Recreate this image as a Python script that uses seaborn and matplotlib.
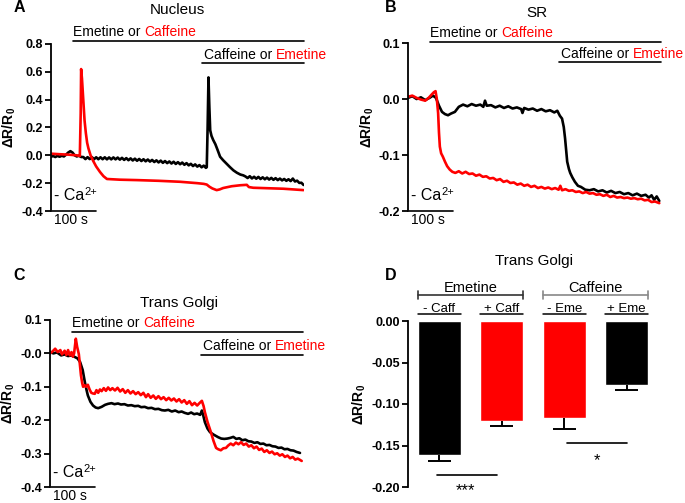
import numpy as np
import pandas as pd
import matplotlib
matplotlib.use("Agg")
import matplotlib.pyplot as plt
import seaborn as sns

# ---- data ----
# panel A, nucleus
a_black_t = [0, 5, 10, 15, 20, 25, 30, 35, 40, 45, 50, 55, 60, 65, 70,
             75, 80, 85, 90, 95, 100, 105, 110, 115, 120, 125, 130, 135, 140, 145,
             150, 155, 160, 165, 170, 175, 180, 185, 190, 195, 200, 205, 210, 215,
             220, 225, 230, 235, 240, 245, 250, 255, 260, 265, 270, 275, 280, 285,
             290, 295, 300, 305, 310, 315, 320, 325, 330, 335, 340, 345, 350, 355,
             360, 362, 364, 366, 368, 370, 373, 377, 382, 387, 393, 400, 408, 416,
             424, 432, 440, 447, 452, 457, 462, 467, 472, 477, 482, 487, 492, 497,
             502, 507, 512, 517, 522, 527, 532, 537, 542, 547, 552, 557, 562, 567,
             572, 577, 582, 587]
a_black_v = [-0.010, -0.005, -0.012, -0.004, -0.010, -0.003, -0.008, 0.005, 0.020, 0.030,
             0.020, 0.000, -0.008, -0.002, -0.012,
             -0.012, -0.027, -0.013, -0.027, -0.013, -0.028, -0.014, -0.028, -0.014, -0.028,
             -0.014, -0.029, -0.015, -0.029, -0.015, -0.029, -0.016, -0.031, -0.018, -0.033,
             -0.020, -0.035, -0.022, -0.037, -0.024, -0.039, -0.026, -0.041, -0.028, -0.043,
             -0.030, -0.045, -0.033, -0.048, -0.036, -0.051, -0.038, -0.054, -0.041, -0.056,
             -0.044, -0.059, -0.046, -0.062, -0.049, -0.064, -0.052, -0.068, -0.056, -0.072,
             -0.061, -0.077, -0.065, -0.081, -0.070, -0.086, -0.074,
             -0.090, -0.085, 0.20, 0.56, 0.35, 0.18, 0.14, 0.11, 0.08, 0.04, -0.01, -0.035,
             -0.06, -0.085, -0.108, -0.125, -0.138, -0.144, -0.152, -0.163, -0.150, -0.166,
             -0.154, -0.168, -0.155, -0.170, -0.158, -0.172, -0.160, -0.174, -0.162, -0.176,
             -0.164, -0.178, -0.167, -0.180, -0.170, -0.183, -0.172, -0.185, -0.167, -0.188,
             -0.182, -0.198, -0.197, -0.213]
a_red_t = [0, 20, 40, 60, 67, 69, 70, 72, 75, 78, 81, 84, 87, 92, 98, 105, 114, 122,
           130, 160, 200, 250, 300, 340, 355, 362, 368, 375, 385, 392, 400, 420, 440,
           455, 460, 470, 500, 540, 587]
a_red_v = [0.012, 0.008, 0.005, 0.000, -0.005, 0.30, 0.62, 0.55, 0.40, 0.25, 0.16, 0.09,
           0.05, 0.00, -0.04, -0.08, -0.12, -0.15, -0.170, -0.175, -0.178, -0.183, -0.190,
           -0.200, -0.205, -0.210, -0.225, -0.238, -0.250, -0.245, -0.235, -0.222, -0.215,
           -0.212, -0.228, -0.233, -0.236, -0.240, -0.250]

# panel B, SR
b_black_t = [0, 10, 20, 30, 40, 50, 58, 65, 72, 79, 86, 93, 100, 109, 118, 128, 138, 148,
             158, 168, 175, 179, 183, 193, 203, 213, 223, 233, 243, 253, 263, 266, 270,
             280, 290, 300, 310, 320, 330, 340, 347, 353, 358, 362, 365, 368, 370, 374,
             377, 382, 388, 395, 402, 412, 422, 432, 442, 452, 462, 472, 482, 492, 502,
             512, 522, 532, 542, 552, 560, 566, 572, 578, 584]
b_black_v = [0.002, 0.005, 0.000, 0.003, -0.002, 0.002, 0.006, 0.002, -0.012, -0.023,
             -0.027, -0.029, -0.026, -0.023, -0.014, -0.010, -0.013, -0.009, -0.012, -0.010,
             -0.014, -0.003, -0.012, -0.011, -0.015, -0.012, -0.016, -0.013, -0.017, -0.015,
             -0.018, -0.025, -0.016, -0.019, -0.017, -0.021, -0.018, -0.022, -0.020, -0.024,
             -0.021, -0.030, -0.035, -0.050, -0.070, -0.095, -0.112, -0.125, -0.132, -0.140,
             -0.148, -0.155, -0.157, -0.162, -0.163, -0.161, -0.165, -0.163, -0.167, -0.164,
             -0.168, -0.166, -0.170, -0.168, -0.172, -0.169, -0.173, -0.171, -0.176, -0.172,
             -0.180, -0.174, -0.182]
b_red_t = [0, 10, 20, 30, 40, 48, 55, 60, 64, 67, 70, 72, 74, 77, 81, 86, 91, 97, 103,
           110, 118, 126, 134, 142, 150, 158, 166, 174, 182, 190, 198, 206, 214, 222, 230,
           238, 246, 254, 262, 270, 278, 286, 294, 302, 310, 318, 326, 334, 342, 350, 354,
           358, 366, 374, 382, 390, 398, 406, 414, 422, 430, 438, 446, 454, 462, 470, 478,
           486, 494, 502, 510, 518, 526, 534, 542, 550, 558, 566, 574, 584]
b_red_v = [0.004, 0.006, 0.002, -0.001, -0.003, 0.002, 0.008, 0.012, 0.014, 0.000, -0.025,
           -0.060, -0.085, -0.097, -0.103, -0.112, -0.120, -0.126, -0.130, -0.132, -0.129,
           -0.133, -0.130, -0.134, -0.133, -0.137, -0.135, -0.139, -0.138, -0.142, -0.141,
           -0.145, -0.143, -0.148, -0.146, -0.150, -0.149, -0.153, -0.151, -0.155, -0.153,
           -0.157, -0.155, -0.159, -0.157, -0.160, -0.158, -0.161, -0.159, -0.162, -0.155,
           -0.163, -0.161, -0.164, -0.163, -0.166, -0.165, -0.168, -0.166, -0.169, -0.168,
           -0.171, -0.170, -0.173, -0.171, -0.175, -0.173, -0.176, -0.175, -0.177, -0.176,
           -0.178, -0.177, -0.179, -0.178, -0.181, -0.180, -0.184, -0.183, -0.186]

# panel C, trans Golgi
c_black_t = [0, 8, 16, 26, 34, 42, 50, 58, 64, 70, 76, 81, 85, 88, 94, 100, 106, 112, 120,
             128, 135, 143, 150, 158, 165, 173, 181, 189, 197, 205, 212, 220, 228, 236, 244,
             252, 260, 267, 275, 283, 291, 299, 306, 313, 321, 328, 335, 342, 349, 353, 356,
             360, 366, 372, 380, 391, 398, 405, 412, 419, 426, 433, 440, 447, 454, 461, 468,
             475, 482, 489, 496, 503, 510, 517, 524, 531, 538, 545, 552, 559, 566, 573, 581]
c_black_v = [0.004, 0.000, 0.003, -0.006, -0.003, -0.008, -0.006, -0.011, -0.015, -0.026,
             -0.050, -0.086, -0.110, -0.126, -0.145, -0.156, -0.162, -0.164, -0.160, -0.154,
             -0.151, -0.149, -0.152, -0.150, -0.153, -0.152, -0.156, -0.155, -0.158, -0.157,
             -0.161, -0.160, -0.164, -0.163, -0.167, -0.166, -0.170, -0.171, -0.169, -0.174,
             -0.171, -0.176, -0.174, -0.178, -0.181, -0.177, -0.182, -0.180, -0.184, -0.171,
             -0.185, -0.206, -0.225, -0.236, -0.243, -0.251, -0.255, -0.256, -0.255, -0.253,
             -0.250, -0.256, -0.254, -0.260, -0.258, -0.263, -0.264, -0.268, -0.266, -0.271,
             -0.270, -0.275, -0.274, -0.278, -0.279, -0.283, -0.282, -0.287, -0.286, -0.290,
             -0.291, -0.295, -0.298]
c_red_t = [0, 6, 12, 18, 24, 28, 34, 38, 42, 46, 50, 53, 56, 60, 63, 67, 70, 72, 75, 77,
           80, 84, 88, 92, 96, 100, 104, 108, 112, 116, 120, 125, 130, 135, 140, 145, 151,
           157, 163, 169, 175, 181, 187, 193, 199, 205, 211, 217, 223, 228, 234, 240, 246,
           252, 258, 264, 270, 276, 282, 288, 294, 300, 306, 312, 318, 324, 330, 336, 342,
           348, 353, 357, 360, 366, 374, 380, 386, 391, 397, 403, 409, 414, 420, 426, 432,
           438, 444, 450, 456, 462, 468, 474, 480, 486, 492, 498, 504, 510, 516, 522, 528,
           534, 540, 546, 552, 558, 564, 570, 576, 585]
c_red_v = [0.000, 0.006, 0.014, 0.004, 0.010, -0.003, 0.008, -0.005, 0.010, -0.006, 0.004,
           -0.010, 0.000, 0.044, 0.020, -0.002, -0.040, -0.066, -0.090, -0.100, -0.095,
           -0.100, -0.094, -0.108, -0.118, -0.120, -0.121, -0.110, -0.118, -0.108, -0.113,
           -0.104, -0.112, -0.102, -0.110, -0.104, -0.111, -0.103, -0.114, -0.107, -0.118,
           -0.110, -0.120, -0.113, -0.122, -0.116, -0.125, -0.118, -0.131, -0.122, -0.133,
           -0.126, -0.136, -0.128, -0.137, -0.131, -0.140, -0.133, -0.141, -0.135, -0.144,
           -0.137, -0.147, -0.140, -0.151, -0.143, -0.155, -0.148, -0.156, -0.148, -0.142,
           -0.158, -0.176, -0.205, -0.236, -0.262, -0.283, -0.287, -0.290, -0.284, -0.283,
           -0.276, -0.270, -0.275, -0.267, -0.272, -0.266, -0.274, -0.270, -0.279, -0.275,
           -0.284, -0.279, -0.289, -0.285, -0.295, -0.290, -0.298, -0.294, -0.302, -0.299,
           -0.306, -0.302, -0.310, -0.306, -0.314, -0.310, -0.318, -0.315, -0.322]

# panel D, bar summary
d_labels = ["- Caff", "+ Caff", "- Eme", "+ Eme"]
d_means = [-0.162, -0.120, -0.117, -0.077]
d_sem = [0.007, 0.007, 0.013, 0.006]
d_colors = ["black", "red", "red", "black"]
d_groups = ["Emetine", "Caffeine"]

drug_times = [50, 352]   # first and second addition (s)
t_end = 588

# ---- style ----
sns.set_style("ticks", {"axes.edgecolor": "black", "ytick.color": "black",
                        "text.color": "black", "axes.labelcolor": "black"})
plt.rcParams["font.family"] = ["Liberation Sans", "DejaVu Sans"]
plt.rcParams["axes.unicode_minus"] = False
plt.rcParams["mathtext.fontset"] = "custom"
plt.rcParams["mathtext.rm"] = "Liberation Sans"
plt.rcParams["mathtext.it"] = "Liberation Sans:italic"
plt.rcParams["mathtext.bf"] = "Liberation Sans:bold"

W, H = 685, 503
fig = plt.figure(figsize=(W / 100, H / 100), dpi=100)


def rect(left, right, top, bottom):
    return [left / W, 1 - bottom / H, (right - left) / W, (bottom - top) / H]


def style_y(ax, ylim, ticks, labels, label_x):
    ax.set_ylim(*ylim)
    ax.set_yticks(ticks)
    ax.set_yticklabels(labels, fontweight="bold", fontsize=9)
    ax.tick_params(axis="y", length=4, width=1.3, pad=1.5)
    ax.tick_params(axis="x", length=0)
    ax.set_xticks([])
    ax.set_xlabel("")
    ax.spines["left"].set_linewidth(1.3)
    sns.despine(ax=ax, bottom=True)
    ax.set_ylabel(r"ΔR/R$_\mathbf{0}$", fontsize=10, fontweight="bold")
    ax.yaxis.set_label_coords(label_x, 0.5)


def drug_label(ax, t0, yfrac, first, second):
    tr = ax.get_xaxis_transform()
    t1 = ax.text(t0, yfrac, first, transform=tr, fontsize=10, va="bottom", ha="left")
    ax.annotate(second, xy=(1, 0), xycoords=t1, fontsize=10, va="bottom",
                ha="left", color="red")


def trace_panel(r, bt, bv, rt, rv, ylim, ticks, labels, ylab_x, y_lines, y_texts, y_ca):
    ax = fig.add_axes(r)
    sns.lineplot(x=bt, y=bv, color="black", lw=1.9, estimator=None, ax=ax)
    sns.lineplot(x=rt, y=rv, color="red", lw=1.9, estimator=None, ax=ax)
    ax.set_xlim(0, t_end)
    style_y(ax, ylim, ticks, labels, ylab_x)
    tr = ax.get_xaxis_transform()
    # drug application bars
    for t0, yl in zip(drug_times, y_lines):
        ax.plot([t0, t_end], [yl, yl], transform=tr, color="black", lw=1.2,
                clip_on=False)
    drug_label(ax, drug_times[0] + 1, y_texts[0], "Emetine or ", "Caffeine")
    drug_label(ax, drug_times[1] + 4, y_texts[1], "Caffeine or ", "Emetine")
    # Ca-free + time scale bar
    ax.plot([3, 104], [0, 0], transform=tr, color="black", lw=1.2, clip_on=False)
    ca = ax.text(7, y_ca, "- Ca", transform=tr, fontsize=11.5, va="bottom")
    ax.annotate("2+", xy=(1, 0.42), xycoords=ca, fontsize=8, va="bottom", ha="left")
    ax.text(7, -0.08, "100 s", transform=tr, fontsize=10, va="baseline")
    return ax


axA = trace_panel(rect(51, 304, 44, 211), a_black_t, a_black_v, a_red_t, a_red_v,
                  (-0.4, 0.8), [0.8, 0.6, 0.4, 0.2, 0.0, -0.2, -0.4],
                  ["0.8", "0.6", "0.4", "0.2", "0.0", "-0.2", "-0.4"], -0.13,
                  (1.018, 0.888), (1.03, 0.895), 0.045)
axB = trace_panel(rect(408, 661, 43, 211), b_black_t, b_black_v, b_red_t, b_red_v,
                  (-0.2, 0.1), [0.1, 0.0, -0.1, -0.2],
                  ["0.1", "0.0", "-0.1", "-0.2"], -0.125,
                  (1.005, 0.884), (1.02, 0.89), 0.045)
axC = trace_panel(rect(50, 303, 320, 487), c_black_t, c_black_v, c_red_t, c_red_v,
                  (-0.4, 0.1), [0.1, 0.0, -0.1, -0.2, -0.3, -0.4],
                  ["0.1", "-0.0", "-0.1", "-0.2", "-0.3", "-0.4"], -0.13,
                  (0.926, 0.792), (0.94, 0.805), 0.041)

# ---- panel D ----
axD = fig.add_axes(rect(408, 658, 321, 487))
df = pd.DataFrame({"cond": d_labels, "value": d_means})
sns.barplot(data=df, x="cond", y="value", hue="cond", palette=d_colors,
            width=0.69, saturation=1, errorbar=None, legend=False, ax=axD)
xpos = np.arange(len(d_labels))
lows = np.array(d_means) - np.array(d_sem)
axD.vlines(xpos, d_means, lows, color="black", lw=1.4)
axD.hlines(lows, xpos - 0.185, xpos + 0.185, color="black", lw=1.4)
axD.set_xlim(-0.5, 3.5)
style_y(axD, (-0.2, 0.0), [0.0, -0.05, -0.10, -0.15, -0.20],
        ["0.00", "-0.05", "-0.10", "-0.15", "-0.20"], -0.16)
hw = 0.69 / 2
for i, lab in enumerate(d_labels):
    axD.plot([i - hw, i + hw], [0.0081, 0.0081], color="black", lw=1.1, clip_on=False)
    axD.text(i, 0.0112, lab, ha="center", va="baseline", fontsize=9.5)
for g, (name, col) in enumerate(zip(d_groups, ["#333333", "#888888"])):
    x0, x1 = 2 * g - hw, 2 * g + 1 + hw
    axD.plot([x0, x1], [0.0313, 0.0313], color=col, lw=1.2, clip_on=False)
    axD.plot([x0, x0], [0.0265, 0.0365], color=col, lw=1.2, clip_on=False)
    axD.plot([x1, x1], [0.0265, 0.0365], color=col, lw=1.2, clip_on=False)
    axD.text((x0 + x1) / 2, 0.0353, name, ha="center", va="baseline", fontsize=10.5)
# significance
axD.plot([-0.04, 0.92], [-0.1855, -0.1855], color="black", lw=1.2, clip_on=False)
axD.text(0.42, -0.2095, "***", ha="center", va="baseline", fontsize=12)
axD.plot([2.04, 3.0], [-0.147, -0.147], color="black", lw=1.2, clip_on=False)
axD.text(2.52, -0.1735, "*", ha="center", va="baseline", fontsize=12)

# ---- titles and panel letters ----
for x, y, s in [(177, 10, "Nucleus"), (537, 13, "SR"), (179, 303, "Trans Golgi"),
                (534, 261, "Trans Golgi")]:
    fig.text(x / W, 1 - y / H, s, ha="center", va="center", fontsize=11)
for x, y, s in [(19, 8, "A"), (391, 8, "B"), (19, 275, "C"), (391, 276, "D")]:
    fig.text(x / W, 1 - y / H, s, ha="center", va="center", fontsize=11.5,
             fontweight="bold")

fig.savefig("out.png", dpi=100)
